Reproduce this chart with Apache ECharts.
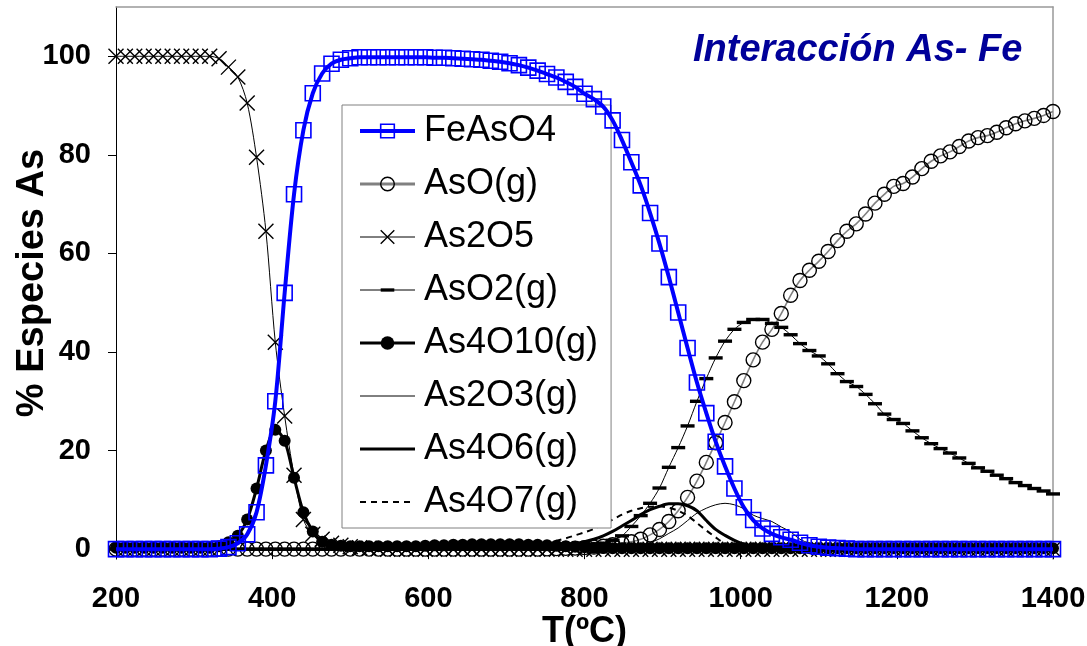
<!DOCTYPE html>
<html><head><meta charset="utf-8">
<script src="https://cdn.jsdelivr.net/npm/echarts@6/dist/echarts.min.js"></script>
<style>html,body{margin:0;padding:0;background:#fff;overflow:hidden}#c{width:1087px;height:646px}</style>
</head><body><div id="c"></div>
<script>
const titleText = 'Interacción As- Fe';
const xName = 'T(ºC)';
const yName = '% Especies As';
const seriesNames = ['FeAsO4','AsO(g)','As2O5','AsO2(g)','As4O10(g)','As2O3(g)','As4O6(g)','As4O7(g)'];
const yTicks = [0,20,40,60,80,100];

const temps = [200,212,224,236,248,260,272,284,296,308,
  320,332,344,356,368,380,392,404,416,428,
  440,452,464,476,488,500,512,524,536,548,
  560,572,584,596,608,620,632,644,656,668,
  680,692,704,716,728,740,752,764,776,788,
  800,812,824,836,848,860,872,884,896,908,
  920,932,944,956,968,980,992,1004,1016,1028,
  1040,1052,1064,1076,1088,1100,1112,1124,1136,1148,
  1160,1172,1184,1196,1208,1220,1232,1244,1256,1268,
  1280,1292,1304,1316,1328,1340,1352,1364,1376,1388,
  1400];

const feAsO4 = [0,0,0,0,0,0,0,0,0,0,
  0,0.1,0.4,1.2,3.0,7.5,17,30,52,72,
  85,92.5,96.5,98.5,99.3,99.6,99.8,99.8,99.8,99.8,
  99.8,99.8,99.8,99.8,99.7,99.7,99.6,99.5,99.4,99.3,
  99.1,98.9,98.6,98.2,97.7,97.1,96.4,95.7,94.8,93.8,
  92.4,91.3,89.8,87.0,83.0,78.5,73.8,68.2,62.0,55.2,
  48.0,40.8,33.8,27.6,21.8,16.8,12.3,8.5,5.9,4.2,
  3.1,2.4,1.9,1.3,0.8,0.5,0.3,0.2,0.1,0,
  0,0,0,0,0,0,0,0,0,0,
  0,0,0,0,0,0,0,0,0,0,
  0];
const asO = [0,0,0,0,0,0,0,0,0,0,
  0,0,0,0,0,0,0,0,0,0,
  0,0,0,0,0,0,0,0,0,0,
  0,0,0,0,0,0,0,0,0,0,
  0,0,0,0,0,0,0.05,0.1,0.15,0.2,
  0.3,0.4,0.6,0.9,1.2,1.5,2.0,2.9,4.0,5.6,
  7.8,10.5,13.8,17.6,21.6,25.7,29.9,34.2,38.4,42.0,
  44.6,47.8,51.5,54.5,56.6,58.4,60.4,62.6,64.5,66.0,
  68.0,70.2,72.0,73.6,74.2,75.5,77.2,78.7,79.8,80.6,
  81.7,82.8,83.5,83.9,84.6,85.5,86.3,86.9,87.4,88.0,
  88.8];
const as2O5 = [100,100,100,100,100,100,100,100,100,100,
  100,99.5,97.8,95.8,90.5,79.5,64.5,42,27,15,
  6.0,3.0,2.0,1.2,0.8,0.5,0.3,0.2,0.1,0,
  0,0,0,0,0,0,0,0,0,0,
  0,0,0,0,0,0,0,0,0,0,
  0,0,0,0,0,0,0,0,0,0,
  0,0,0,0,0,0,0,0,0,0,
  0,0,0,0,0,0,0,0,0,0,
  0,0,0,0,0,0,0,0,0,0,
  0,0,0,0,0,0,0,0,0,0,
  0];
const asO2 = [0,0,0,0,0,0,0,0,0,0,
  0,0,0,0,0,0,0,0,0,0,
  0,0,0,0,0,0,0,0,0,0,
  0,0,0,0,0,0,0,0,0,0,
  0,0,0,0,0,0,0,0,0,0.3,
  0.6,0.9,1.2,1.8,2.7,4.6,6.8,9.3,12.4,16.6,
  20.6,25.0,30.0,34.6,38.8,42.2,44.6,46.0,46.6,46.6,
  45.8,45.0,43.5,41.7,40.3,39.2,37.6,35.6,34.0,33.0,
  31.4,29.5,27.4,26.3,25.5,24.0,22.6,21.4,20.4,19.5,
  18.5,17.4,16.5,15.8,15.0,14.3,13.5,12.9,12.3,11.8,
  11.2];
const as4O10 = [0.3,0.3,0.3,0.3,0.3,0.3,0.3,0.3,0.3,0.3,
  0.3,0.6,1.4,2.7,6.0,12.3,20.0,24.2,22.0,14.5,
  7.5,3.6,1.5,0.9,0.7,0.6,0.6,0.6,0.6,0.6,
  0.6,0.6,0.6,0.7,0.8,0.8,0.9,0.9,1.0,1.0,
  1.0,1.0,1.0,1.0,0.9,0.9,0.8,0.7,0.6,0.5,
  0.4,0.3,0.3,0.2,0.2,0.2,0.2,0.2,0.2,0.2,
  0.2,0.2,0.2,0.2,0.2,0.2,0.2,0.2,0.2,0.2,
  0.2,0.2,0.2,0.2,0.2,0.2,0.2,0.2,0.2,0.2,
  0.2,0.2,0.2,0.2,0.2,0.2,0.2,0.2,0.2,0.2,
  0.2,0.2,0.2,0.2,0.2,0.2,0.2,0.2,0.2,0.2,
  0.2];
const as2O3 = [0,0,0,0,0,0,0,0,0,0,
  0,0,0,0,0,0,0,0,0,0,
  0,0,0,0,0,0,0,0,0,0,
  0,0,0,0,0,0,0,0,0,0,
  0,0,0,0,0,0,0,0,0,0,
  0,0,0,0,0,0.4,0.8,1.3,2.1,3.2,
  4.3,5.8,7.3,8.3,9.0,9.3,9.0,8.2,6.9,6.2,
  5.6,4.5,3.5,2.0,1.2,0.7,0.4,0.2,0.1,0,
  0,0,0,0,0,0,0,0,0,0,
  0,0,0,0,0,0,0,0,0,0,
  0];
const as4O6 = [0,0,0,0,0,0,0,0,0,0,
  0,0,0,0,0,0,0,0,0,0,
  0,0,0,0,0,0,0,0,0,0,
  0,0,0,0,0,0,0,0,0,0,
  0,0,0,0,0,0,0.2,0.4,0.7,1.1,
  1.5,2.0,2.7,3.6,4.7,5.8,7.0,8.0,8.7,9.2,
  9.2,8.8,7.8,5.8,4.0,2.8,1.8,1.0,0.5,0.2,
  0.1,0,0,0,0,0,0,0,0,0,
  0,0,0,0,0,0,0,0,0,0,
  0,0,0,0,0,0,0,0,0,0,
  0];
const as4O7 = [0,0,0,0,0,0,0,0,0,0,
  0,0,0,0,0,0,0,0,0,0,
  0,0,0,0,0,0,0,0,0,0,
  0,0,0,0,0,0,0,0,0,0.1,
  0.2,0.3,0.4,0.6,0.8,1.1,1.4,1.7,2.2,2.8,
  3.4,4.1,5.0,6.0,7.0,7.8,8.3,8.6,8.7,8.4,
  7.8,6.8,5.3,3.8,2.4,1.1,0.4,0.1,0,0,
  0,0,0,0,0,0,0,0,0,0,
  0,0,0,0,0,0,0,0,0,0,
  0,0,0,0,0,0,0,0,0,0,
  0];

const FONT = '"Liberation Sans", Arial, sans-serif';
const CLEAR = 'rgba(0,0,0,0)';
const symX = 'path://M0,0L10,10M0,10L10,0';
const symDash = 'path://M0,0M14,14M0,5.3L14,5.3L14,8.7L0,8.7Z';
function pairs(arr) { return temps.map((t, i) => [t, arr[i]]); }

const base = { type: 'line', smooth: 0.3, showAllSymbol: true, animation: false, xAxisIndex: 0, yAxisIndex: 0 };

const series = [
  Object.assign({}, base, { name: seriesNames[0], data: pairs(feAsO4), z: 4,
    symbol: 'rect', symbolSize: 15,
    itemStyle: { color: CLEAR, borderColor: '#0000FF', borderWidth: 1.6 },
    lineStyle: { color: '#0000FF', width: 4 } }),
  Object.assign({}, base, { name: seriesNames[1], data: pairs(asO),
    symbol: 'circle', symbolSize: 14,
    itemStyle: { color: CLEAR, borderColor: '#000', borderWidth: 1.4 },
    lineStyle: { color: '#808080', width: 1.6 } }),
  Object.assign({}, base, { name: seriesNames[2], data: pairs(as2O5),
    symbol: symX, symbolSize: 15,
    itemStyle: { color: CLEAR, borderColor: '#000', borderWidth: 1.4 },
    lineStyle: { color: '#000', width: 1 } }),
  Object.assign({}, base, { name: seriesNames[3], data: pairs(asO2),
    symbol: symDash, symbolSize: 14,
    itemStyle: { color: '#000', borderWidth: 0 },
    lineStyle: { color: '#000', width: 1 } }),
  Object.assign({}, base, { name: seriesNames[4], data: pairs(as4O10),
    symbol: 'circle', symbolSize: 12,
    itemStyle: { color: '#000', borderWidth: 0 },
    lineStyle: { color: '#000', width: 3 } }),
  Object.assign({}, base, { name: seriesNames[5], data: pairs(as2O3),
    symbol: 'circle', showSymbol: false,
    itemStyle: { color: CLEAR, borderWidth: 0 },
    lineStyle: { color: '#000', width: 1 } }),
  Object.assign({}, base, { name: seriesNames[6], data: pairs(as4O6),
    symbol: 'circle', showSymbol: false,
    itemStyle: { color: CLEAR, borderWidth: 0 },
    lineStyle: { color: '#000', width: 3 } }),
  Object.assign({}, base, { name: seriesNames[7], data: pairs(as4O7),
    symbol: 'circle', showSymbol: false,
    itemStyle: { color: CLEAR, borderWidth: 0 },
    lineStyle: { color: '#000', width: 2, type: [6, 5] } })
];

const legendData = seriesNames.map(function (n) {
  return n === 'AsO(g)' ? { name: n, lineStyle: { width: 3 } } : { name: n };
});

const chart = echarts.init(document.getElementById('c'), null, { renderer: 'canvas' });
chart.setOption({
  animation: false,
  backgroundColor: '#fff',
  title: { text: titleText, left: 693, top: 32, padding: 0,
    textStyle: { fontFamily: FONT, fontSize: 38, fontWeight: 'bold', fontStyle: 'italic', color: '#000099' } },
  legend: { orient: 'vertical', left: 342, top: 105, padding: [8, 13, 8, 16],
    itemGap: 17, itemWidth: 55, itemHeight: 17, selectedMode: false,
    backgroundColor: '#fff', borderColor: '#808080', borderWidth: 1, borderRadius: 0,
    textStyle: { fontFamily: FONT, fontSize: 36, color: '#000', lineHeight: 36, padding: [0, 0, 0, 4] },
    lineStyle: { width: 'inherit' }, itemStyle: { borderWidth: 'inherit' },
    data: legendData },
  grid: { left: 116, right: 34, top: 7, bottom: 87, containLabel: false, outerBoundsMode: 'none' },
  xAxis: [
    { type: 'value', min: 200, max: 1400, interval: 200,
      name: xName, nameLocation: 'middle', nameGap: 55, nameMoveOverlap: false,
      nameTextStyle: { fontFamily: FONT, fontSize: 36, fontWeight: 'bold', color: '#000' },
      axisLine: { show: true, onZero: true, lineStyle: { color: '#000', width: 1 } },
      axisTick: { show: true, inside: false, length: 10, lineStyle: { color: '#000', width: 1 } },
      axisLabel: { margin: 25, fontFamily: FONT, fontSize: 29, fontWeight: 'bold', color: '#000',
        formatter: function (v) { return String(v); } },
      splitLine: { show: false } },
    { type: 'value', position: 'top', min: 200, max: 1400,
      axisLine: { show: true, onZero: false, lineStyle: { color: '#999', width: 1.5 } },
      axisTick: { show: false }, axisLabel: { show: false }, splitLine: { show: false } }
  ],
  yAxis: [
    { type: 'value', min: -2, max: 110,
      name: yName, nameLocation: 'middle', nameGap: 64, nameMoveOverlap: false,
      nameTextStyle: { fontFamily: FONT, fontSize: 38, fontWeight: 'bold', color: '#000' },
      axisLine: { show: true, onZero: false, lineStyle: { color: '#000', width: 1 } },
      axisTick: { show: true, inside: false, length: 8, customValues: yTicks, lineStyle: { color: '#000', width: 1 } },
      axisLabel: { customValues: yTicks, margin: 25, fontFamily: FONT, fontSize: 29, fontWeight: 'bold', color: '#000' },
      splitLine: { show: false } },
    { type: 'value', position: 'right', min: -2, max: 110,
      axisLine: { show: true, onZero: false, lineStyle: { color: '#999', width: 1.5 } },
      axisTick: { show: false }, axisLabel: { show: false }, splitLine: { show: false } }
  ],
  series: series
});
</script>
</body></html>
